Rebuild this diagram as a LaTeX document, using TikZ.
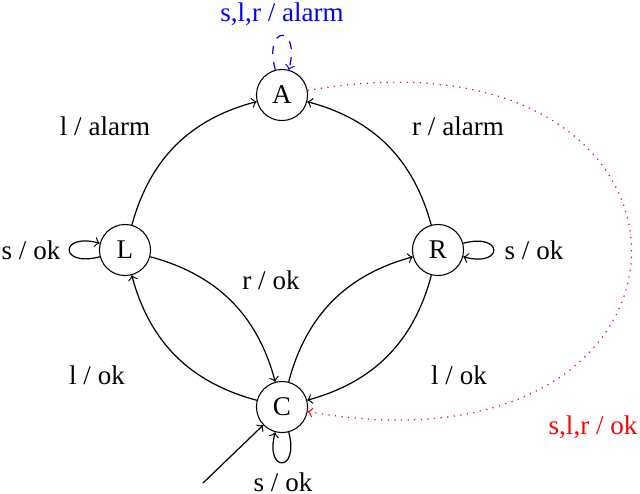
\documentclass[tikz,border=0pt]{standalone}
\usepackage{fontspec}
\setmainfont{Liberation Serif}
\begin{document}
\begin{tikzpicture}[x=0.37pt,y=-0.37pt,
  state/.style={draw,circle,minimum size=18.9pt,inner sep=0pt,font=\fontsize{10}{12}\selectfont},
  lbl/.style={inner sep=0pt,font=\fontsize{10}{12}\selectfont},
  edge/.style={->,line width=0.45pt},
  every loop/.style={}]
\useasboundingbox (0,0) rectangle (640,493);
\node[state] (A) at (282,95) {A};
\node[state] (L) at (125,250) {L};
\node[state] (R) at (438,250) {R};
\node[state] (C) at (282,407) {C};
\coordinate (init) at (203,483);

\draw[edge] (L) to[bend left=30] (A);
\draw[edge] (R) to[bend right=30] (A);
\draw[edge] (L) to[bend left=30] (C);
\draw[edge] (C) to[bend left=30] (L);
\draw[edge] (C) to[bend left=30] (R);
\draw[edge] (R) to[bend left=30] (C);
\draw[edge] (L) to[loop left] (L);
\draw[edge] (R) to[loop right] (R);
\draw[edge] (C) to[loop below] (C);
\draw[edge,blue,dashed] (A) to[loop above,looseness=9] (A);
\draw[edge,red,dotted] (A) to[out=10,in=-10,looseness=3.5] (C);
\draw[edge] (init) -- (C);

\node[lbl,blue] (la) at (282,14) {s,l,r / alarm};
\node[lbl] (lla) at (105,126) {l / alarm};
\node[lbl] (lra) at (458,126) {r / alarm};
\node[lbl] (lls) at (31,250) {s / ok};
\node[lbl] (lrs) at (534,250) {s / ok};
\node[lbl] (lro) at (271,280) {r / ok};
\node[lbl] (llo) at (97,375) {l / ok};
\node[lbl] (lrl) at (459,375) {l / ok};
\node[lbl,red] (lred) at (593,427) {s,l,r / ok};
\node[lbl] (lcs) at (283,482) {s / ok};
\end{tikzpicture}
\end{document}
